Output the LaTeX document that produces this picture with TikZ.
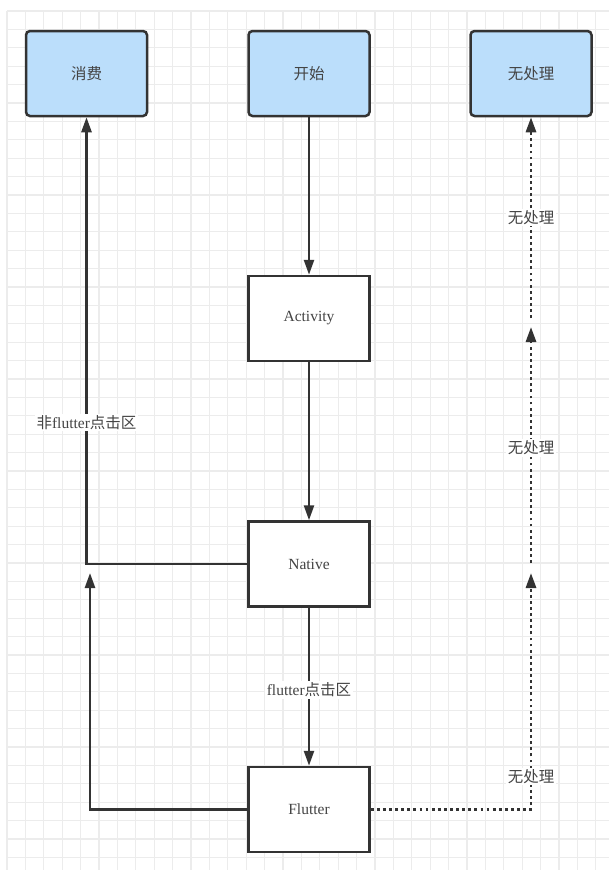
\documentclass[tikz,border=0pt]{standalone}
\usepackage{fontspec}
\setmainfont{Liberation Serif}
\newfontfamily\cjk{Noto Sans CJK SC}
\usetikzlibrary{arrows.meta}
\definecolor{boxfill}{HTML}{BBDEFB}
\definecolor{edgec}{HTML}{333333}
\definecolor{txt}{HTML}{444444}
\definecolor{gridc}{HTML}{ECECEC}
\begin{document}
\begin{tikzpicture}[x=1pt,y=-1pt,
 base/.style={draw=edgec,line width=2.5pt,minimum width=121pt,minimum height=85pt,inner sep=0pt,text=txt,font=\fontsize{15.5}{18}\selectfont},
 startbox/.style={base,fill=boxfill,rounded corners=4pt},
 procbox/.style={base,fill=white},
 conn/.style={draw=edgec,line width=2.5pt,-{Triangle[width=10pt,length=15pt]}},
 dotconn/.style={conn,line width=2.8pt,dash pattern=on 2.8pt off 3.3pt},
 lbl/.style={fill=white,text=txt,inner sep=1.5pt,font=\fontsize{15.5}{18}\selectfont}]
\useasboundingbox (0,0) rectangle (609,870);
\fill[white] (0,0) rectangle (609,870);
\foreach \i in {0,...,32} \draw[gridc,line width=1.2pt] ({7+18.4*\i},11) -- ({7+18.4*\i},870);
\foreach \j in {0,...,46} \draw[gridc,line width=1.2pt] (7,{11+18.4*\j}) -- (609,{11+18.4*\j});

\node[startbox] (xf) at (86.5,73.5) {\cjk 消费};
\node[startbox] (ks) at (309,73.5) {\cjk 开始};
\node[startbox] (wcl) at (531,73.5) {\cjk 无处理};
\node[procbox] (act) at (309,318.5) {Activity};
\node[procbox] (nat) at (309,564) {Native};
\node[procbox] (flt) at (309,809.5) {Flutter};

\coordinate (lt) at (90,573);
\coordinate (rt1) at (531,573);
\coordinate (r2s) at (531,563);
\coordinate (r2e) at (531,327);
\coordinate (r3s) at (531,318);

\draw[conn] (ks) -- (act);
\draw[conn] (act) -- (nat);
\draw[conn] (nat) -- node[lbl,pos=0.52]{flutter{\cjk 点击区}} (flt);
\draw[conn] (nat.west) -| node[lbl,pos=0.658]{{\cjk 非}flutter{\cjk 点击区}} (xf.south);
\draw[conn] (flt.west) -| (lt);
\draw[dotconn] (flt.east) -| node[lbl,pos=0.57]{\cjk 无处理} (rt1);
\draw[dotconn] (r2s) -- node[lbl,pos=0.487]{\cjk 无处理} (r2e);
\draw[dotconn] (r3s) -- node[lbl]{\cjk 无处理} (wcl.south);
\end{tikzpicture}
\end{document}
